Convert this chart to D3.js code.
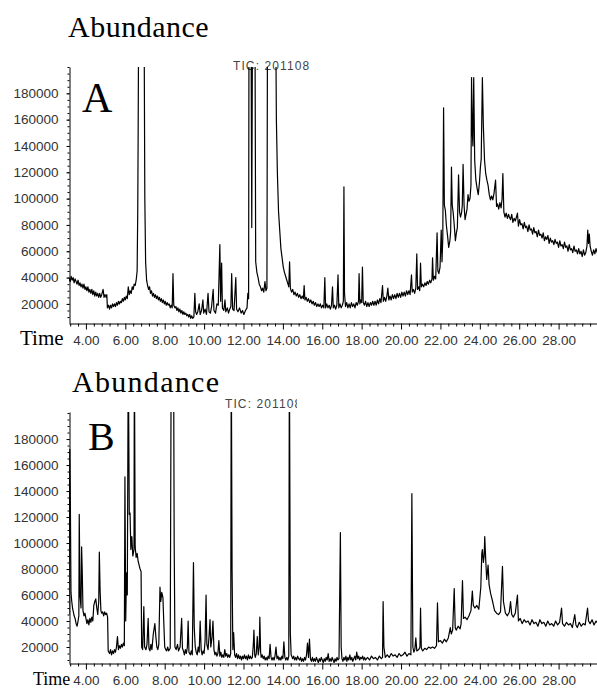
<!DOCTYPE html>
<html>
<head>
<meta charset="utf-8">
<script src="https://cdn.jsdelivr.net/npm/d3@7"></script>
<style>
  body { margin: 0; background: #fff; }
  svg { display: block; }
</style>
</head>
<body>
<svg id="chart"></svg>
<script>
// TIC chromatograms A / B (abundance in thousands vs retention time in min)
// values of 250 are peaks running off the top of the frame (clipped)

const traceA = [
  [3.13,40],[3.2,37],[3.25,41],[3.3,38],[3.35,40],[3.4,36],[3.45,39],[3.5,37],[3.55,35],[3.6,38],[3.65,34],[3.7,36],
  [3.75,33],[3.8,35],[3.85,32],[3.9,35],[3.95,31],[4.0,33],[4.05,30],[4.1,33],[4.15,29],[4.2,31],[4.25,28],[4.3,31],
  [4.35,27],[4.4,30],[4.45,26],[4.5,29],[4.55,26],[4.6,28],[4.65,25],[4.7,28],[4.75,25],[4.8,27],[4.87,31],[4.92,25],
  [4.97,27],[5.03,25],[5.06,27],[5.09,17],[5.15,19],[5.2,16],[5.25,19],[5.3,17],[5.35,20],[5.4,18],[5.45,20],[5.5,18],
  [5.55,21],[5.6,19],[5.65,22],[5.7,20],[5.75,22],[5.8,21],[5.85,24],[5.9,22],[5.95,25],[6.0,23],[6.05,26],[6.1,24],
  [6.15,33],[6.2,27],[6.25,30],[6.3,28],[6.35,33],[6.4,31],[6.45,35],[6.5,34],[6.55,38],[6.6,45],[6.63,90],[6.65,145],
  [6.68,250],[6.95,250],[6.99,100],[7.03,52],[7.08,38],[7.13,34],[7.18,31],[7.23,33],[7.28,28],[7.33,30],[7.38,26],
  [7.43,28],[7.48,25],[7.53,27],[7.58,24],[7.63,26],[7.68,23],[7.73,25],[7.78,22],[7.83,24],[7.88,21],[7.93,23],
  [7.98,20],[8.03,22],[8.08,19],[8.13,21],[8.18,19],[8.23,20],[8.28,17],[8.33,19],[8.38,17],[8.42,43],[8.46,19],
  [8.52,17],[8.57,18],[8.62,15],[8.67,17],[8.72,14],[8.77,16],[8.82,13],[8.87,15],[8.92,12],[8.97,14],[9.02,12],
  [9.07,13],[9.12,11],[9.17,12],[9.22,10],[9.27,12],[9.32,9],[9.37,11],[9.42,9],[9.48,10],[9.53,28],[9.57,14],
  [9.62,12],[9.68,14],[9.75,20],[9.8,12],[9.87,15],[9.94,23],[9.98,13],[10.05,16],[10.12,12],[10.2,28],[10.25,14],
  [10.32,13],[10.38,18],[10.46,31],[10.5,15],[10.58,13],[10.65,20],[10.72,19],[10.8,65],[10.84,22],[10.89,51],
  [10.93,17],[11.0,15],[11.06,23],[11.1,14],[11.18,17],[11.24,13],[11.3,16],[11.36,18],[11.4,43],[11.45,16],
  [11.52,15],[11.61,40],[11.65,16],[11.72,14],[11.8,17],[11.88,13],[11.95,15],[12.02,12],[12.1,15],[12.18,17],
  [12.22,28],[12.26,24],[12.28,250],[12.38,250],[12.42,78],[12.46,250],[12.58,250],[12.62,52],[12.68,44],[12.74,40],
  [12.8,35],[12.86,33],[12.92,30],[12.97,32],[13.03,29],[13.09,37],[13.14,30],[13.19,32],[13.22,250],[13.63,250],
  [13.67,160],[13.72,120],[13.78,90],[13.84,76],[13.9,62],[13.96,55],[14.02,48],[14.08,44],[14.14,41],[14.2,38],
  [14.26,35],[14.3,33],[14.34,52],[14.38,32],[14.44,29],[14.5,31],[14.56,27],[14.62,29],[14.68,26],[14.74,28],
  [14.8,25],[14.86,27],[14.92,24],[14.98,26],[15.04,24],[15.08,34],[15.12,23],[15.18,25],[15.24,22],[15.3,24],
  [15.36,21],[15.42,23],[15.48,20],[15.54,22],[15.6,19],[15.66,21],[15.72,18],[15.78,20],[15.84,18],[15.9,20],
  [15.96,17],[16.02,19],[16.08,17],[16.13,40],[16.17,17],[16.23,20],[16.29,17],[16.35,19],[16.41,16],[16.47,19],
  [16.52,33],[16.56,17],[16.62,19],[16.68,16],[16.74,19],[16.8,42],[16.84,17],[16.9,20],[16.96,17],[17.02,19],
  [17.07,22],[17.1,109],[17.13,28],[17.18,18],[17.24,21],[17.3,17],[17.36,20],[17.42,17],[17.48,21],[17.54,18],
  [17.6,20],[17.66,17],[17.72,21],[17.78,19],[17.84,22],[17.87,43],[17.91,20],[17.96,23],[18.0,21],[18.04,48],
  [18.08,21],[18.14,19],[18.2,22],[18.26,18],[18.32,21],[18.38,18],[18.44,21],[18.5,19],[18.56,22],[18.62,19],
  [18.68,22],[18.74,19],[18.8,23],[18.86,20],[18.92,24],[18.98,21],[19.06,34],[19.1,22],[19.16,25],[19.22,22],
  [19.28,26],[19.33,32],[19.38,23],[19.44,26],[19.5,23],[19.56,27],[19.62,24],[19.68,27],[19.74,24],[19.8,28],
  [19.86,25],[19.92,28],[19.98,25],[20.04,29],[20.1,26],[20.16,29],[20.22,26],[20.28,30],[20.34,27],[20.4,30],
  [20.46,27],[20.53,42],[20.57,29],[20.63,31],[20.69,28],[20.75,32],[20.8,58],[20.84,31],[20.9,33],[20.95,30],
  [20.99,51],[21.03,33],[21.09,35],[21.15,33],[21.21,36],[21.27,34],[21.33,37],[21.39,35],[21.45,38],[21.51,36],
  [21.57,39],[21.6,55],[21.64,38],[21.7,41],[21.76,39],[21.83,74],[21.87,45],[21.92,43],[21.98,48],[22.04,76],
  [22.08,52],[22.12,70],[22.16,169],[22.2,95],[22.25,91],[22.3,80],[22.36,72],[22.42,63],[22.48,68],[22.52,75],
  [22.56,124],[22.6,95],[22.65,89],[22.7,80],[22.76,68],[22.81,74],[22.86,78],[22.92,118],[22.97,90],[23.02,86],
  [23.08,90],[23.11,95],[23.15,126],[23.2,95],[23.25,84],[23.3,88],[23.35,92],[23.4,103],[23.45,98],[23.5,100],
  [23.55,110],[23.58,192],[23.62,150],[23.65,140],[23.69,192],[23.74,129],[23.8,114],[23.86,108],[23.92,103],
  [23.98,112],[24.03,124],[24.07,130],[24.13,192],[24.18,155],[24.24,129],[24.3,119],[24.36,114],[24.42,110],
  [24.48,103],[24.54,99],[24.6,102],[24.66,99],[24.72,104],[24.8,114],[24.85,94],[24.9,96],[24.96,92],[25.02,97],
  [25.08,93],[25.13,100],[25.17,119],[25.22,90],[25.28,86],[25.34,89],[25.4,85],[25.46,88],[25.5,86],[25.56,84],
  [25.62,88],[25.68,82],[25.74,85],[25.8,83],[25.86,86],[25.91,89],[25.96,79],[26.02,84],[26.08,80],[26.14,81],
  [26.2,77],[26.26,82],[26.32,78],[26.38,79],[26.44,75],[26.5,80],[26.56,76],[26.62,77],[26.68,73],[26.74,78],
  [26.8,74],[26.86,75],[26.92,71],[26.98,76],[27.04,72],[27.1,73],[27.16,70],[27.22,74],[27.28,68],[27.34,71],
  [27.4,69],[27.46,72],[27.52,66],[27.58,70],[27.64,67],[27.7,68],[27.76,65],[27.82,69],[27.88,66],[27.94,67],
  [28.0,63],[28.06,68],[28.12,64],[28.18,65],[28.24,62],[28.3,67],[28.36,63],[28.42,64],[28.48,60],[28.54,65],
  [28.6,61],[28.66,62],[28.72,59],[28.78,64],[28.84,60],[28.9,61],[28.96,58],[29.02,62],[29.08,58],[29.14,60],
  [29.2,56],[29.26,61],[29.32,57],[29.38,59],[29.44,64],[29.48,76],[29.52,66],[29.56,73],[29.6,64],[29.66,60],
  [29.72,57],[29.78,61],[29.84,58],[29.9,62],[29.96,59],[30.0,61]
];

const traceB = [
  [3.14,45],[3.18,172],[3.21,130],[3.24,62],[3.28,55],[3.32,50],[3.36,47],[3.4,44],[3.45,42],[3.5,38],[3.55,36],[3.6,40],
  [3.64,44],[3.66,122],[3.7,60],[3.75,50],[3.78,97],[3.81,80],[3.85,48],[3.9,44],[3.95,46],[4.0,42],[4.05,38],
  [4.1,41],[4.15,37],[4.2,42],[4.25,39],[4.3,43],[4.35,40],[4.4,52],[4.45,55],[4.5,57],[4.55,50],[4.6,45],[4.65,55],
  [4.68,93],[4.72,63],[4.76,48],[4.8,46],[4.85,47],[4.9,44],[4.95,47],[5.0,45],[5.05,46],[5.1,43],[5.13,17],[5.2,15],
  [5.25,18],[5.3,14],[5.35,17],[5.4,15],[5.45,18],[5.5,16],[5.55,20],[5.6,28],[5.65,18],[5.7,21],[5.75,19],[5.8,22],
  [5.85,20],[5.9,23],[5.95,21],[5.98,151],[6.02,40],[6.06,77],[6.1,60],[6.15,250],[6.2,122],[6.24,123],[6.28,95],
  [6.33,105],[6.38,90],[6.44,95],[6.46,250],[6.5,97],[6.55,89],[6.6,92],[6.65,86],[6.7,83],[6.75,80],[6.8,78],
  [6.83,20],[6.88,18],[6.94,51],[6.98,20],[7.05,18],[7.1,22],[7.16,42],[7.2,19],[7.25,17],[7.3,22],[7.35,18],
  [7.42,30],[7.5,38],[7.55,28],[7.6,20],[7.65,18],[7.7,22],[7.76,66],[7.8,55],[7.85,62],[7.91,58],[7.95,40],[8.0,20],
  [8.05,18],[8.1,17],[8.15,20],[8.2,17],[8.28,19],[8.33,250],[8.45,250],[8.48,101],[8.52,20],[8.58,18],[8.65,22],
  [8.7,17],[8.78,20],[8.86,42],[8.9,19],[8.95,17],[9.0,14],[9.05,18],[9.1,15],[9.15,20],[9.19,40],[9.23,16],[9.3,14],
  [9.35,17],[9.4,14],[9.46,85],[9.5,35],[9.55,20],[9.6,16],[9.65,14],[9.7,20],[9.75,16],[9.8,40],[9.85,18],[9.9,14],
  [9.95,17],[10.0,15],[10.05,25],[10.1,60],[10.14,22],[10.2,18],[10.25,28],[10.3,41],[10.34,20],[10.4,27],[10.45,40],
  [10.5,18],[10.55,14],[10.6,16],[10.65,13],[10.7,15],[10.75,25],[10.8,13],[10.85,16],[10.9,12],[10.95,14],[11.0,12],
  [11.05,18],[11.1,13],[11.15,15],[11.2,12],[11.25,14],[11.3,12],[11.35,15],[11.38,250],[11.42,80],[11.46,18],
  [11.5,31],[11.55,14],[11.6,12],[11.65,15],[11.7,11],[11.75,14],[11.8,11],[11.85,13],[11.9,10],[11.95,13],[12.0,11],
  [12.05,14],[12.1,11],[12.15,13],[12.2,10],[12.25,14],[12.3,11],[12.35,13],[12.4,11],[12.45,12],[12.5,22],[12.53,33],
  [12.57,14],[12.6,12],[12.65,15],[12.7,28],[12.75,14],[12.8,20],[12.83,43],[12.87,16],[12.9,12],[12.95,14],[13.0,11],
  [13.05,13],[13.1,10],[13.15,12],[13.2,10],[13.25,13],[13.3,11],[13.35,22],[13.4,12],[13.45,10],[13.5,12],[13.55,10],
  [13.6,13],[13.65,20],[13.7,11],[13.75,13],[13.8,10],[13.85,12],[13.9,10],[13.95,13],[14.0,11],[14.05,24],[14.1,12],
  [14.15,10],[14.2,12],[14.25,10],[14.3,13],[14.33,250],[14.38,30],[14.42,14],[14.5,11],[14.55,13],[14.6,10],
  [14.65,12],[14.7,10],[14.75,13],[14.8,11],[14.85,10],[14.9,12],[14.95,9],[15.0,11],[15.05,9],[15.1,12],[15.15,10],
  [15.2,14],[15.25,23],[15.3,12],[15.35,26],[15.4,11],[15.45,9],[15.5,12],[15.55,9],[15.6,11],[15.65,9],[15.7,12],
  [15.75,10],[15.8,8],[15.85,11],[15.9,9],[15.95,12],[16.0,10],[16.05,8],[16.1,11],[16.15,9],[16.2,12],[16.25,10],
  [16.3,15],[16.35,9],[16.4,11],[16.45,9],[16.5,12],[16.55,10],[16.6,8],[16.65,11],[16.7,9],[16.75,12],[16.8,10],
  [16.85,11],[16.92,108],[16.96,20],[17.0,11],[17.05,9],[17.1,12],[17.15,10],[17.2,13],[17.25,9],[17.3,12],[17.35,10],
  [17.4,14],[17.45,10],[17.5,12],[17.55,9],[17.6,11],[17.65,13],[17.7,10],[17.75,16],[17.8,11],[17.85,13],[17.9,10],
  [17.95,12],[18.0,11],[18.05,13],[18.1,10],[18.15,12],[18.2,10],[18.3,12],[18.4,10],[18.5,13],[18.6,11],[18.7,12],
  [18.8,10],[18.9,13],[19.0,11],[19.06,12],[19.09,55],[19.13,20],[19.2,12],[19.3,14],[19.4,12],[19.5,15],[19.6,13],
  [19.7,14],[19.8,12],[19.9,15],[20.0,13],[20.1,14],[20.2,16],[20.3,13],[20.4,15],[20.5,14],[20.55,138],[20.6,20],
  [20.65,16],[20.7,18],[20.75,27],[20.8,17],[20.9,18],[20.96,20],[20.99,50],[21.03,19],[21.1,17],[21.2,19],[21.3,18],
  [21.4,20],[21.5,19],[21.6,20],[21.7,19],[21.8,21],[21.85,54],[21.9,24],[22.0,25],[22.1,23],[22.2,26],[22.3,24],
  [22.4,27],[22.5,35],[22.55,30],[22.62,33],[22.7,65],[22.75,35],[22.8,33],[22.9,36],[23.0,34],[23.05,38],[23.12,71],
  [23.17,42],[23.25,43],[23.35,41],[23.45,44],[23.55,48],[23.62,63],[23.67,52],[23.75,50],[23.85,52],[23.95,49],
  [24.05,66],[24.1,92],[24.13,95],[24.18,85],[24.22,90],[24.25,105],[24.3,87],[24.35,72],[24.42,83],[24.47,68],
  [24.55,61],[24.65,55],[24.75,48],[24.85,46],[24.95,45],[25.05,47],[25.15,82],[25.2,55],[25.3,46],[25.4,44],
  [25.5,47],[25.56,55],[25.62,45],[25.7,43],[25.8,46],[25.91,60],[25.96,40],[26.05,42],[26.15,38],[26.25,41],
  [26.35,39],[26.45,40],[26.55,37],[26.65,41],[26.75,38],[26.85,39],[26.95,36],[27.05,41],[27.15,38],[27.25,39],
  [27.35,36],[27.45,40],[27.55,37],[27.65,38],[27.75,36],[27.85,40],[27.95,37],[28.05,39],[28.15,50],[28.2,38],
  [28.3,36],[28.4,39],[28.5,37],[28.6,38],[28.7,35],[28.82,45],[28.88,37],[28.95,35],[29.05,39],[29.15,36],
  [29.25,38],[29.35,37],[29.47,50],[29.52,40],[29.6,38],[29.7,41],[29.8,37],[29.9,40],[30.0,38]
];

const yTickValues = [20000, 40000, 60000, 80000, 100000, 120000, 140000, 160000, 180000];
const xTickValues = [4, 6, 8, 10, 12, 14, 16, 18, 20, 22, 24, 26, 28];
const panelLetters = ["A", "B"];
const ticTitle = "TIC: 201108";

const W = 597, H = 688;
const svg = d3.select("#chart").attr("width", W).attr("height", H);

// shared time axis
const x = d3.scaleLinear().domain([3.14, 29.95]).range([69, 597]);
const xMinor = d3.range(3.2, 29.9, 0.4).filter(t => Math.abs(t / 2 - Math.round(t / 2)) > 0.01);

// layout of the two panels
const panels = [
  { trace: traceA, top: 67, bottom: 323, yDomain: [5500, 200000],
    abundX: 68, abundY: 37, abundLs: 0.5, letterX: 82, letterY: 112, letterSize: 42,
    timeX: 20, timeY: 345, timeSize: 21, ticX: 233, ticY: 70, ticClip: 600 },
  { trace: traceB, top: 412, bottom: 663, yDomain: [7700, 200800],
    abundX: 72, abundY: 392, abundLs: 1.3, letterX: 88, letterY: 450, letterSize: 40,
    timeX: 33, timeY: 685, timeSize: 18, ticX: 225, ticY: 408, ticClip: 297 }
];

const defs = svg.append("defs");

panels.forEach((p, i) => {
  const g = svg.append("g");
  const y = d3.scaleLinear().domain(p.yDomain).range([p.bottom, p.top]);

  // title
  g.append("text")
    .attr("x", p.abundX).attr("y", p.abundY)
    .style("font-family", "'Liberation Serif', 'Times New Roman', serif")
    .style("font-size", "30px")
    .style("letter-spacing", p.abundLs + "px")
    .text("Abundance");

  // TIC caption (clipped in B)
  defs.append("clipPath").attr("id", "ticclip" + i)
    .append("rect").attr("x", 0).attr("y", 0).attr("width", p.ticClip).attr("height", H);
  g.append("text")
    .attr("x", p.ticX).attr("y", p.ticY)
    .attr("clip-path", `url(#ticclip${i})`)
    .style("font-family", "'Liberation Sans', Arial, sans-serif")
    .style("font-size", "12px")
    .style("letter-spacing", "1.1px")
    .style("fill", "#444")
    .text(ticTitle);

  // plot clip
  defs.append("clipPath").attr("id", "plotclip" + i)
    .append("rect").attr("x", 69).attr("y", p.top).attr("width", W - 69).attr("height", p.bottom - p.top);

  const line = d3.line()
    .x(d => x(d[0]))
    .y(d => y(d[1] * 1000));

  g.append("path")
    .datum(p.trace)
    .attr("clip-path", `url(#plotclip${i})`)
    .attr("d", line)
    .attr("fill", "none")
    .attr("stroke", "#000")
    .attr("stroke-width", 1.2)
    .attr("stroke-linejoin", "round");

  // panel letter
  g.append("text")
    .attr("x", p.letterX).attr("y", p.letterY)
    .style("font-family", "'Liberation Serif', 'Times New Roman', serif")
    .style("font-size", p.letterSize + "px")
    .text(panelLetters[i]);

  // y axis (minor + major)
  g.append("g")
    .attr("transform", "translate(69.5,0)")
    .call(d3.axisLeft(y).tickValues(d3.range(10000, 200001, 5000)).tickSize(2).tickFormat(""))
    .call(a => a.select(".domain").remove());
  const yAxis = g.append("g")
    .attr("transform", "translate(69.5,0)")
    .call(d3.axisLeft(y).tickValues(yTickValues).tickSize(3).tickSizeOuter(0).tickPadding(8).tickFormat(d3.format("d")));
  yAxis.selectAll("text")
    .style("font-family", "'Liberation Sans', Arial, sans-serif")
    .style("font-size", "13.5px")
    .style("fill", "#333");

  // x axis
  g.append("g")
    .attr("transform", `translate(0,${p.bottom + 0.5})`)
    .call(d3.axisBottom(x).tickValues(xMinor).tickSize(3).tickFormat(""))
    .call(a => a.select(".domain").remove());
  const xAxis = g.append("g")
    .attr("transform", `translate(0,${p.bottom + 0.5})`)
    .call(d3.axisBottom(x).tickValues(xTickValues).tickSize(6).tickSizeOuter(0).tickPadding(6).tickFormat(d3.format(".2f")));
  xAxis.selectAll("text")
    .style("font-family", "'Liberation Sans', Arial, sans-serif")
    .style("font-size", "13.5px")
    .style("fill", "#333");

  g.append("text")
    .attr("x", p.timeX).attr("y", p.timeY)
    .style("font-family", "'Liberation Serif', 'Times New Roman', serif")
    .style("font-size", p.timeSize + "px")
    .text("Time");
});
</script>
</body>
</html>
